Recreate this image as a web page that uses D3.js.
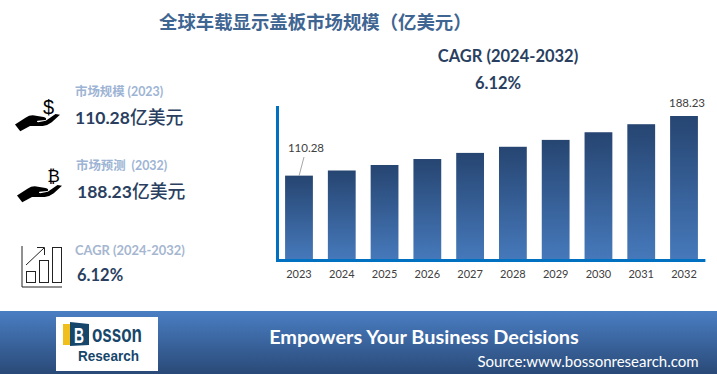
<!DOCTYPE html>
<html>
<head>
<meta charset="utf-8">
<script src="https://cdn.jsdelivr.net/npm/d3@7/dist/d3.min.js"></script>
<style>
  html, body { margin: 0; padding: 0; background: #fff; overflow: hidden; }
  text { font-family: Lato, "Noto Sans CJK SC", sans-serif; }
</style>
</head>
<body>
<svg id="chart" width="717" height="374"></svg>
<script>
const years = ['2023', '2024', '2025', '2026', '2027', '2028', '2029', '2030', '2031', '2032'];
const marketSize = [110.28, 117, 124.2, 132, 140, 148, 157, 167, 177.5, 188.23];
const labelledYears = ['2023', '2032'];

const title = '全球车载显示盖板市场规模（亿美元）';
const cagrLabel = 'CAGR (2024-2032)';
const cagrValue = '6.12%';
const sizeLabel = '市场规模 (2023)';
const sizeValue = '110.28';
const forecastLabel = '市场预测  (2032)';
const forecastValue = '188.23';
const unit = '亿美元';

const svg = d3.select('#chart');
const defs = svg.append('defs');

function addGradient(id, top, bottom) {
  const grad = defs.append('linearGradient')
    .attr('id', id)
    .attr('x1', 0).attr('y1', 0)
    .attr('x2', 0).attr('y2', 1);
  grad.append('stop').attr('offset', '0%').attr('stop-color', top);
  grad.append('stop').attr('offset', '100%').attr('stop-color', bottom);
}
addGradient('bar-fill', '#264571', '#4679bb');
addGradient('footer-fill', '#4a7ec3', '#2a4a78');

// Bars
const x = d3.scaleBand()
  .domain(years)
  .range([277.6, 705.4])
  .paddingInner(0.35)
  .paddingOuter(0.175);

const y = d3.scaleLinear()
  .domain([0, 188.23])
  .range([260, 116]);

svg.append('g').selectAll('rect')
  .data(years)
  .join('rect')
  .attr('x', d => x(d))
  .attr('y', (d, i) => y(marketSize[i]))
  .attr('width', x.bandwidth())
  .attr('height', (d, i) => y(0) - y(marketSize[i]))
  .attr('fill', 'url(#bar-fill)');

// Axis lines
svg.append('line')
  .attr('x1', 277.5).attr('x2', 277.5)
  .attr('y1', 106).attr('y2', 261.5)
  .attr('stroke', '#0070c0').attr('stroke-width', 3);
svg.append('line')
  .attr('x1', 276).attr('x2', 705.4)
  .attr('y1', 260.5).attr('y2', 260.5)
  .attr('stroke', '#0070c0').attr('stroke-width', 3);

// Tick labels
const xAxis = svg.append('g')
  .attr('transform', 'translate(0,262)')
  .call(d3.axisBottom(x).tickSize(0).tickPadding(8));
xAxis.select('.domain').remove();
xAxis.selectAll('text')
  .attr('font-size', 11)
  .attr('fill', '#404040')
  .style('font-family', 'Lato, sans-serif');

// Data labels
svg.append('g').selectAll('text')
  .data(labelledYears)
  .join('text')
  .attr('x', d => x(d) + x.bandwidth() / 2 + (d === '2023' ? 7 : 3))
  .attr('y', d => y(marketSize[years.indexOf(d)]) - (d === '2023' ? 24 : 9))
  .attr('text-anchor', 'middle')
  .attr('font-size', 11.5)
  .attr('fill', '#404040')
  .text(d => marketSize[years.indexOf(d)].toFixed(2));

// Leader line for first label
svg.append('line')
  .attr('x1', 299).attr('y1', 176)
  .attr('x2', 304).attr('y2', 157)
  .attr('stroke', '#a6a6a6').attr('stroke-width', 1);

// Heading text
function addText(px, py, str, size, fill, weight, anchor) {
  return svg.append('text')
    .attr('x', px).attr('y', py)
    .attr('font-size', size)
    .attr('fill', fill)
    .attr('font-weight', weight || 'normal')
    .attr('text-anchor', anchor || 'start')
    .attr('xml:space', 'preserve')
    .text(str);
}

// Number in bold latin followed by the lighter CJK unit
function addValue(px, py, num) {
  const t = addText(px, py, num, 17.5, '#2a3f5f', 'bold');
  t.append('tspan').attr('font-size', 17.8).attr('font-weight', 500).text(unit);
}

addText(159, 29, title, 18.4, '#3f6592', 'bold').style('font-family', '"Noto Sans CJK SC", sans-serif');
addText(508, 62, cagrLabel, 16.5, '#2a3f5f', 'bold', 'middle');
addText(498, 89, cagrValue, 16.5, '#2a3f5f', 'bold', 'middle');

// Left KPIs
addText(75, 96, sizeLabel, 12.4, '#9db4d4', 'bold');
addValue(75, 124, sizeValue);
addText(76, 170, forecastLabel, 12.4, '#9db4d4', 'bold');
addValue(77, 198, forecastValue);
addText(75, 255, cagrLabel, 12.9, '#a5b6d0', 'bold');
addText(77, 281, cagrValue, 16.5, '#2a3f5f', 'bold');

// Hand icons
function hand(tx, ty) {
  const g = svg.append('g').attr('transform', `translate(${tx},${ty}) scale(0.75)`).attr('fill', '#000');
  g.append('path').attr('d', 'M0,18 L14,9 Q20,5 26,6 L38,8 Q43,9 41,12 L30,13 Q28,14 31,15 L41,13 L54,4 L60,5 L49,15 Q44,19 37,20 L20,20 L7,27 Z');
  return g;
}
hand(15, 111);
svg.append('text').attr('x', 48.5).attr('y', 114).attr('font-size', 20)
  .attr('text-anchor', 'middle').attr('fill', '#000').text('$').style('font-family', '"Liberation Sans", sans-serif');
hand(17, 182);
svg.append('text').attr('x', 53.5).attr('y', 182).attr('font-size', 17)
  .attr('text-anchor', 'middle').attr('fill', '#000').text('₿').style('font-family', '"DejaVu Sans", sans-serif');

// Growth chart icon
const icon = svg.append('g').attr('fill', 'none').attr('stroke', '#222').attr('stroke-width', 1);
icon.append('path').attr('d', 'M22,246 V287 H62');
icon.append('rect').attr('x', 26.5).attr('y', 271.5).attr('width', 9).attr('height', 11);
icon.append('rect').attr('x', 39.5).attr('y', 260.5).attr('width', 9).attr('height', 22);
icon.append('rect').attr('x', 52.5).attr('y', 247.5).attr('width', 9).attr('height', 35);
icon.append('path').attr('d', 'M26,265 L44,248 M37,247.5 H44.5 V255');

// Footer band
svg.append('rect')
  .attr('x', 0).attr('y', 311)
  .attr('width', 717).attr('height', 63)
  .attr('fill', 'url(#footer-fill)');

// Logo
const logoFont = '"Liberation Sans", sans-serif';
function logoText(px, py, str, size, len, fill) {
  svg.append('text').attr('x', px).attr('y', py)
    .attr('font-size', size).attr('font-weight', 'bold')
    .attr('textLength', len).attr('lengthAdjust', 'spacingAndGlyphs')
    .attr('fill', fill).text(str).style('font-family', logoFont);
}
svg.append('rect').attr('x', 56).attr('y', 317).attr('width', 102).attr('height', 54).attr('fill', '#fff');
svg.append('rect').attr('x', 63).attr('y', 324).attr('width', 8).attr('height', 21).attr('fill', '#f0bf1c');
svg.append('path').attr('d', 'M70,322 L89,324 V345 L70,346 Z').attr('fill', '#17466b');
logoText(74, 343, 'B', 22, 10, '#fff');
logoText(92, 342, 'osson', 24, 50, '#17466b');
logoText(78, 361, 'Research', 15.5, 61, '#17466b');

// Footer text
addText(424, 344, 'Empowers Your Business Decisions', 19.9, '#fff', 'bold', 'middle');
addText(588, 367, 'Source:www.bossonresearch.com', 15, '#fff', 'normal', 'middle');
</script>
</body>
</html>
